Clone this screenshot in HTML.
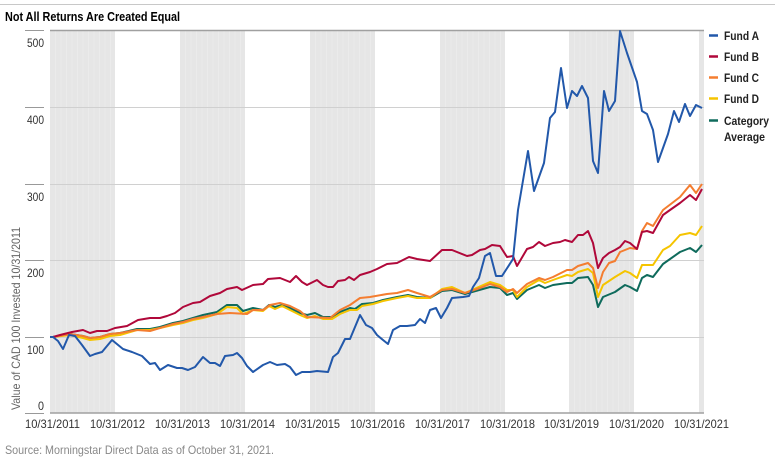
<!DOCTYPE html>
<html><head><meta charset="utf-8"><style>
html,body{margin:0;padding:0;background:#fff;}
svg{display:block;font-family:"Liberation Sans Narrow","Liberation Sans",sans-serif;}
</style></head><body>
<svg width="775" height="462" viewBox="0 0 775 462" xmlns="http://www.w3.org/2000/svg">
<line x1="0" y1="4.5" x2="775" y2="4.5" stroke="#c8c8c8" stroke-width="1"/>
<text x="5" y="21" font-size="13" font-weight="bold" fill="#000" textLength="175" lengthAdjust="spacingAndGlyphs">Not All Returns Are Created Equal</text>
<g fill="#e6e6e6">
<rect x="50" y="30" width="65" height="383"/>
<rect x="180" y="30" width="65" height="383"/>
<rect x="310" y="30" width="65" height="383"/>
<rect x="440" y="30" width="65" height="383"/>
<rect x="569" y="30" width="65" height="383"/>
<rect x="699" y="30" width="5" height="383"/>
</g>
<g stroke="#ebebeb" stroke-width="1">
<path d="M55.5 30V413M61 30V413M66.5 30V413M72 30V413M77.5 30V413M83 30V413M88.5 30V413M94 30V413M99.5 30V413M105 30V413M110.5 30V413
M185.5 30V413M191 30V413M196.5 30V413M202 30V413M207.5 30V413M213 30V413M218.5 30V413M224 30V413M229.5 30V413M235 30V413M240.5 30V413
M315.5 30V413M321 30V413M326.5 30V413M332 30V413M337.5 30V413M343 30V413M348.5 30V413M354 30V413M359.5 30V413M365 30V413M370.5 30V413
M445.5 30V413M451 30V413M456.5 30V413M462 30V413M467.5 30V413M473 30V413M478.5 30V413M484 30V413M489.5 30V413M495 30V413M500.5 30V413
M574.5 30V413M580 30V413M585.5 30V413M591 30V413M596.5 30V413M602 30V413M607.5 30V413M613 30V413M618.5 30V413M624 30V413M629.5 30V413"/>
</g>
<g stroke="#d0d0d0" stroke-width="1">
<line x1="50" y1="107.5" x2="704" y2="107.5"/>
<line x1="50" y1="184.5" x2="704" y2="184.5"/>
<line x1="50" y1="260.5" x2="704" y2="260.5"/>
<line x1="50" y1="337.5" x2="704" y2="337.5"/>
</g>
<line x1="50" y1="30.5" x2="704" y2="30.5" stroke="#a0a0a0" stroke-width="1.5"/>
<line x1="50" y1="413" x2="704" y2="413" stroke="#a0a0a0" stroke-width="1.5"/>
<g stroke="#999" stroke-width="1">
<line x1="25" y1="30.5" x2="44" y2="30.5"/>
<line x1="25" y1="107.5" x2="44" y2="107.5"/>
<line x1="25" y1="184.5" x2="44" y2="184.5"/>
<line x1="25" y1="260.5" x2="44" y2="260.5"/>
<line x1="25" y1="337.5" x2="44" y2="337.5"/>
<line x1="25" y1="413.5" x2="44" y2="413.5"/>
</g>
<g font-size="12" fill="#333">
<text x="27" y="47" textLength="17" lengthAdjust="spacingAndGlyphs">500</text>
<text x="27" y="124" textLength="17" lengthAdjust="spacingAndGlyphs">400</text>
<text x="27" y="201" textLength="17" lengthAdjust="spacingAndGlyphs">300</text>
<text x="27" y="277" textLength="17" lengthAdjust="spacingAndGlyphs">200</text>
<text x="27" y="354" textLength="17" lengthAdjust="spacingAndGlyphs">100</text>
<text x="38" y="410" textLength="6" lengthAdjust="spacingAndGlyphs">0</text>
</g>
<text x="-410" y="20" transform="rotate(-90)" font-size="12" fill="#666" textLength="183" lengthAdjust="spacingAndGlyphs">Value of CAD 100 Invested 10/31/2011</text>
<g font-size="12" fill="#333">
<text x="25" y="428" textLength="55" lengthAdjust="spacingAndGlyphs">10/31/2011</text>
<text x="90" y="428" textLength="55" lengthAdjust="spacingAndGlyphs">10/31/2012</text>
<text x="155" y="428" textLength="55" lengthAdjust="spacingAndGlyphs">10/31/2013</text>
<text x="220" y="428" textLength="55" lengthAdjust="spacingAndGlyphs">10/31/2014</text>
<text x="285" y="428" textLength="55" lengthAdjust="spacingAndGlyphs">10/31/2015</text>
<text x="350" y="428" textLength="55" lengthAdjust="spacingAndGlyphs">10/31/2016</text>
<text x="415" y="428" textLength="55" lengthAdjust="spacingAndGlyphs">10/31/2017</text>
<text x="480" y="428" textLength="55" lengthAdjust="spacingAndGlyphs">10/31/2018</text>
<text x="544" y="428" textLength="55" lengthAdjust="spacingAndGlyphs">10/31/2019</text>
<text x="609" y="428" textLength="55" lengthAdjust="spacingAndGlyphs">10/31/2020</text>
<text x="674" y="428" textLength="55" lengthAdjust="spacingAndGlyphs">10/31/2021</text>
</g>
<text x="5" y="454" font-size="12" fill="#888" textLength="269" lengthAdjust="spacingAndGlyphs">Source: Morningstar Direct Data as of October 31, 2021.</text>
<g fill="none" stroke-width="2" stroke-linejoin="round">
<polyline stroke="#0f6b5c" points="50,337 53,337 70,334 83,336 90,338 100,337 110,334 120,333 137,329 150,329 160,327 173,323 183,321 193,318 203,315 217,312 227,305 237,305 243,311 253,308 263,310 269,305 275,307 282,305 290,308 300,313 307,315 315,313 323,317 332,317 340,312 350,308 355,309 362,304 373,303 383,300 397,297 408,295 417,297 430,298 442,291 452,290 465,294 490,287 500,288 507,295 513,293 517,299 527,290 539,285 545,288 553,285 567,283 572,283 578,278 588,277 593,285 598,307 603,297 615,292 625,285 630,287 637,291 642,278 647,275 653,277 663,264 680,252 690,248 696,252 702,245"/>
<polyline stroke="#f5c400" points="50,337 53,337 70,335 83,338 90,340 100,339 110,336 120,335 137,330 150,330 160,328 173,325 183,323 193,320 203,318 217,314 227,307 237,308 243,314 253,310 263,311 269,306 275,309 282,306 290,310 300,315 307,318 315,316 323,319 332,319 340,314 350,310 357,310 362,306 373,304 383,301 397,298 408,296 417,298 430,298 442,289 452,287 465,293 490,282 500,285 507,290 513,290 517,297 527,287 539,280 545,283 553,280 567,275 572,276 578,272 588,269 593,273 598,297 603,285 615,277 625,271 630,273 637,278 642,265 653,265 663,250 670,246 680,235 690,233 696,235 702,226"/>
<polyline stroke="#f47d30" points="50,337 53,337 70,334 83,336 90,338 100,337 110,334 120,333 137,330 150,331 160,328 173,324 183,322 193,319 203,317 217,314 230,313 247,314 253,310 263,310 270,305 280,303 290,306 300,311 307,317 330,318 340,310 350,305 360,298 370,297 387,294 397,293 408,290 417,293 430,297 442,290 452,289 465,293 480,288 490,284 500,287 507,292 513,289 517,293 527,284 539,278 545,280 553,277 567,270 572,270 578,266 588,263 593,268 598,288 603,272 609,263 615,261 620,252 630,248 637,249 642,231 647,223 653,226 663,210 680,197 690,185 696,193 702,184"/>
<polyline stroke="#b0083a" points="50,337 53,337 60,335 72,332 83,330 90,333 97,331 107,331 115,328 127,326 138,320 150,318 160,318 167,316 175,313 183,307 193,303 200,302 210,296 220,293 227,289 237,287 242,290 253,285 263,284 268,279 280,278 290,282 296,276 302,282 307,285 317,280 323,285 328,287 333,287 338,281 345,280 349,277 354,280 360,275 370,272 377,269 387,264 397,263 403,260 409,257 417,259 430,261 442,250 452,250 467,256 472,255 480,250 485,249 492,245 500,246 507,257 513,256 517,266 527,249 533,247 539,242 545,246 553,243 560,242 565,240 572,242 578,235 583,235 588,231 593,243 598,268 603,258 609,253 615,250 620,247 625,241 630,243 637,249 642,232 647,231 653,233 663,215 670,210 680,203 690,195 696,200 702,189"/>
<polyline stroke="#2258aa" points="50,337 53,337 58,341 63,349 69,335 75,336 82,345 90,356 95,354 102,352 112,340 123,349 132,352 142,356 150,364 155,363 160,370 168,365 177,368 182,368 188,370 195,367 203,357 210,363 215,363 220,366 225,356 233,355 237,353 242,358 247,366 253,372 263,365 270,362 277,365 285,364 290,367 296,375 302,372 310,372 317,371 328,372 333,357 338,353 345,339 350,339 360,315 366,325 372,328 377,335 383,340 388,344 393,330 400,326 407,326 415,325 420,319 425,323 430,310 436,308 441,318 447,308 452,298 463,297 469,296 473,287 479,278 485,256 490,253 496,276 502,276 513,259 518,210 528,151 534,191 544,163 550,118 555,112 561,68 567,108 572,91 577,96 582,86 588,98 593,161 598,173 604,91 609,111 615,101 620,31 627,53 637,82 642,111 647,114 653,130 658,162 668,134 674,111 679,122 685,104 690,116 696,105 702,108"/>
</g>
<g stroke-width="2.5">
<line x1="709" y1="35.5" x2="718" y2="35.5" stroke="#2258aa"/>
<line x1="709" y1="56.5" x2="718" y2="56.5" stroke="#b0083a"/>
<line x1="709" y1="77.5" x2="718" y2="77.5" stroke="#f47d30"/>
<line x1="709" y1="98.5" x2="718" y2="98.5" stroke="#f5c400"/>
<line x1="709" y1="120.5" x2="718" y2="120.5" stroke="#0f6b5c"/>
</g>
<g font-size="12" font-weight="bold" fill="#222">
<text x="724" y="40" textLength="35" lengthAdjust="spacingAndGlyphs">Fund A</text>
<text x="724" y="61" textLength="35" lengthAdjust="spacingAndGlyphs">Fund B</text>
<text x="724" y="82" textLength="35" lengthAdjust="spacingAndGlyphs">Fund C</text>
<text x="724" y="103" textLength="35" lengthAdjust="spacingAndGlyphs">Fund D</text>
<text x="724" y="125" textLength="45" lengthAdjust="spacingAndGlyphs">Category</text>
<text x="724" y="141" textLength="41" lengthAdjust="spacingAndGlyphs">Average</text>
</g>
</svg>
</body></html>
